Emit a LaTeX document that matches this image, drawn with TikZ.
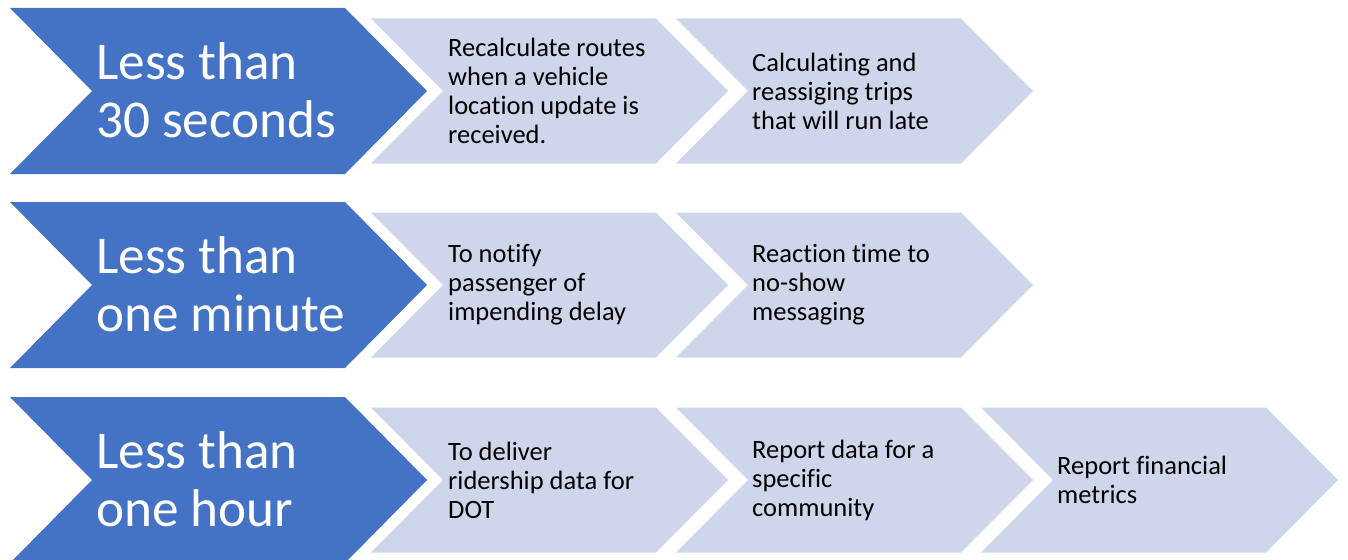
\documentclass[tikz,border=0pt]{standalone}
\usepackage{fontspec}
\setmainfont{Carlito}[RawFeature={-liga;-clig;-calt;-dlig}]
\definecolor{stageblue}{HTML}{4472C4}
\definecolor{steplight}{HTML}{CFD5EA}
% zero kern that keeps letter pairs such as t-i and f-i apart
\newcommand\nolig{\kern0pt{}}
\tikzset{
  stagetext/.style={text=white, font=\fontsize{53.2}{58}\selectfont, align=left, anchor=west, inner sep=0pt},
  steptext/.style={text=black, font=\fontsize{26.5}{29}\selectfont, align=left, anchor=west, inner sep=0pt},
}
% chevron: fill colour, left x, centre y, body width, half height, point depth
\newcommand\chevronshape[6]{%
  \fill[#1] (#2,#3-#5) -- (#2+#4,#3-#5) -- (#2+#4+#6,#3) -- (#2+#4,#3+#5)
    -- (#2,#3+#5) -- (#2+#6,#3) -- cycle;}
\begin{document}
\begin{tikzpicture}[x=1pt,y=-1pt]
  \useasboundingbox (0,0) rectangle (1348,559);

  % stage chevrons (left column)
  \chevronshape{stageblue}{10}{91}{335}{83}{82}
  \chevronshape{stageblue}{10}{285}{335}{83}{82}
  \chevronshape{stageblue}{10}{480}{335}{83}{82}

  % step chevrons
  \chevronshape{steplight}{371}{91}{285}{72.5}{72}
  \chevronshape{steplight}{676}{91}{285}{72.5}{72}
  \chevronshape{steplight}{371}{285}{285}{72.5}{72}
  \chevronshape{steplight}{676}{285}{285}{72.5}{72}
  \chevronshape{steplight}{371}{480}{285}{72.5}{72}
  \chevronshape{steplight}{676}{480}{285}{72.5}{72}
  \chevronshape{steplight}{981}{480}{285}{72.5}{72}

  % stage labels
  \node[stagetext] (s1) at (96,90)  {Less than\\30 seconds};
  \node[stagetext] (s2) at (96,284) {Less than\\one minute};
  \node[stagetext] (s3) at (96,479) {Less than\\one hour};

  % step labels
  \node[steptext] (a1) at (448,91)  {Recalculate routes\\when a vehicle\\locat\nolig ion update is\\received.};
  \node[steptext] (a2) at (752,91)  {Calculat\nolig ing and\\reassiging trips\\that will run late};
  \node[steptext] (b1) at (448,285) {To not\nolig ify\\passenger of\\impending delay};
  \node[steptext] (b2) at (752,285) {React\nolig ion t\nolig ime to\\no-show\\messaging};
  \node[steptext] (c1) at (448,480) {To deliver\\ridership data for\\DOT};
  \node[steptext] (c2) at (752,480) {Report data for a\\specif\nolig ic\\community};
  \node[steptext] (c3) at (1057,480) {Report f\nolig inancial\\metrics};
\end{tikzpicture}
\end{document}
